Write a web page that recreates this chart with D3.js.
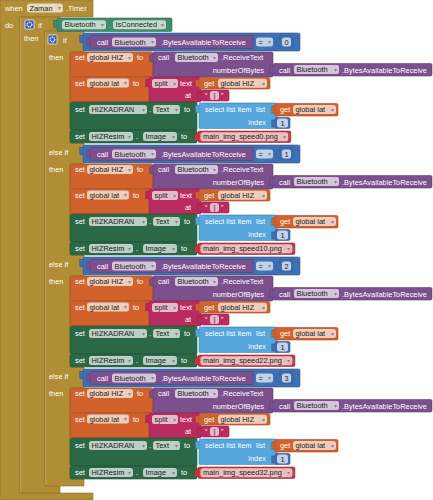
<!DOCTYPE html>
<html><head><meta charset="utf-8">
<script src="https://cdn.jsdelivr.net/npm/d3@7"></script>
<style>
body{margin:0;background:#fff}
svg{display:block}
text{font-family:"Liberation Sans",Arial,sans-serif;font-size:7.4px}
</style>
</head><body><script>
// ---- data ----
const branchIndex = [0, 1, 2, 3];
const branchKeywords = ["if", "else if", "else if", "else if"];
const compareValues = ["0", "1", "2", "3"];
const imageNames = ["main_img_speed0.png", "main_img_speed10.png", "main_img_speed22.png", "main_img_speed32.png"];
const eventComponent = "Zaman";
const eventName = ".Timer";
const btComponent = "Bluetooth";
const varNames = ["global HIZ", "global lat"];
const labelComponents = ["HIZKADRAN", "HIZResim"];
const labelProps = ["Text", "Image"];

// ---- drawing ----
const W = 433, H = 500;
const svg = d3.select("body").append("svg").attr("width", W).attr("height", H);
svg.append("rect").attr("width", W).attr("height", H).attr("fill", "#fff");
const yPos = d3.scaleLinear().domain([0, 3]).range([32, 368]);

const C = {gold:"#B18E35", getter:"#3E8C6B", setter:"#2C6A47", method:"#7B508C", math:"#3F70B6",
           vari:"#D2612B", text:"#BA2B60", str:"#BF3A40", list:"#55A6DC"};

function blk(g, x, yy, w, h, c, tab) {
  const dk = d3.color(c).darker(0.7);
  if (tab) g.append("rect").attr("x", x - 3.2).attr("y", yy + 2.5).attr("width", 4).attr("height", 7)
    .attr("fill", c).attr("stroke", dk).attr("stroke-width", 0.6);
  g.append("rect").attr("x", x).attr("y", yy).attr("width", w).attr("height", h).attr("rx", 1.5)
    .attr("fill", c).attr("stroke", dk).attr("stroke-width", 0.6);
  if (tab) g.append("rect").attr("x", x - 0.4).attr("y", yy + 2.9).attr("width", 1.2).attr("height", 6.2).attr("fill", c);
}
function lbl(g, x, yy, t, anchor) {
  g.append("text").attr("x", x).attr("y", yy).attr("fill", "#fff")
    .attr("text-anchor", anchor || "start").text(t);
}
function fld(g, x, yy, w, t, arrow, center) {
  const h = 9;
  const r = g.append("rect").attr("x", x).attr("y", yy).attr("width", w || 10).attr("height", h).attr("rx", 2.5)
    .attr("fill", "#fff").attr("fill-opacity", 0.68);
  const tx = g.append("text").attr("x", center ? x + w / 2 : x + 2.5).attr("y", yy + h / 2 + 2.6)
    .attr("text-anchor", center ? "middle" : "start").attr("fill", "#222").text(t);
  let ww = w;
  if (!w) { ww = tx.node().getComputedTextLength() + (arrow ? 13 : 5); r.attr("width", ww); }
  if (arrow) g.append("text").attr("x", x + ww - 2.3).attr("y", yy + h / 2 + 2.4).attr("text-anchor", "end")
    .attr("fill", "#8a8a8a").style("font-size", "6px").text("\u25BE");
  return ww;
}
function gear(g, x, yy) {
  g.append("rect").attr("x", x).attr("y", yy).attr("width", 9).attr("height", 9).attr("rx", 1)
    .attr("fill", "#3A5DB0").attr("stroke", "#fff").attr("stroke-width", 0.7);
  g.append("circle").attr("cx", x + 4.5).attr("cy", yy + 4.5).attr("r", 2.3)
    .attr("fill", "none").attr("stroke", "#fff").attr("stroke-width", 1.3).attr("stroke-dasharray", "1.2 0.6");
}

// gold control blocks
const bottomY = yPos(3) + 111;
const goldDark = d3.color(C.gold).darker(0.6);
svg.append("path").attr("d", `M0,0 H93 V17 H20 V${bottomY + 14} H93 V500 H0 Z`)
  .attr("fill", C.gold).attr("stroke", goldDark).attr("stroke-width", 0.6);
svg.append("path").attr("d", `M20,17 H60 V31 H45 V${bottomY + 7} H60 V${bottomY + 14} H20 Z`)
  .attr("fill", C.gold).attr("stroke", goldDark).attr("stroke-width", 0.6);
let p = `M45,${yPos(0) - 1} H84 V${yPos(0) + 20} H70`;
for (let i = 1; i < branchIndex.length; i++) p += ` V${yPos(i) - 1} H84 V${yPos(i) + 20} H70`;
p += ` V${bottomY} H84 V${bottomY + 7} H45 Z`;
svg.append("path").attr("d", p).attr("fill", C.gold).attr("stroke", goldDark).attr("stroke-width", 0.6);
svg.append("line").attr("x1", 20.7).attr("x2", 20.7).attr("y1", 18).attr("y2", bottomY + 13)
  .attr("stroke", "#fff").attr("stroke-opacity", 0.35).attr("stroke-width", 0.7);
svg.append("line").attr("x1", 45.7).attr("x2", 45.7).attr("y1", yPos(0)).attr("y2", bottomY + 6)
  .attr("stroke", "#fff").attr("stroke-opacity", 0.35).attr("stroke-width", 0.7);

const headG = svg.append("g");
lbl(headG, 5, 11.2, "when");
fld(headG, 27, 3.5, 36, eventComponent, true);
lbl(headG, 66, 11.2, eventName);
lbl(headG, 5, 27.5, "do");
gear(headG, 25, 20);
lbl(headG, 38, 27.5, "if");
blk(headG, 57, 18, 115, 13.5, C.getter, true);
fld(headG, 62, 20.2, 44, btComponent, true);
lbl(headG, 108.5, 27.5, ".");
fld(headG, 113, 20.2, 53, "IsConnected", true);
lbl(headG, 24, 41, "then");

// branches
svg.selectAll("g.branch").data(branchIndex).join("g").attr("class", "branch")
  .attr("transform", d => `translate(0,${yPos(d)})`)
  .each(function (d) {
    const g = d3.select(this);
    if (d === 0) { gear(g, 48, 3); lbl(g, 63, 10.8, branchKeywords[d]); }
    else lbl(g, 49, 11, branchKeywords[d]);
    // compare
    blk(g, 83, 1, 217, 18, C.math, true);
    blk(g, 90, 3.5, 163, 13, C.method, true);
    lbl(g, 97, 12.7, "call");
    fld(g, 112, 5.5, 44, btComponent, true);
    lbl(g, 161, 12.7, ".BytesAvailableToReceive");
    fld(g, 256, 5.5, 17, "=", true);
    blk(g, 280, 4, 13, 12, C.math, true);
    fld(g, 282, 5.5, 9, compareValues[d], false, true);

    lbl(g, 49, 28.2, "then");
    // set global HIZ
    blk(g, 70, 20, 83, 25, C.vari);
    lbl(g, 75, 28.2, "set");
    fld(g, 87, 21, 46, varNames[0], true);
    lbl(g, 137, 28.2, "to");
    blk(g, 153, 20, 120, 25, C.method, true);
    lbl(g, 158, 28.2, "call");
    fld(g, 175, 21, 43, btComponent, true);
    lbl(g, 221, 28.2, ".ReceiveText");
    lbl(g, 264, 40.7, "numberOfBytes", "end");
    blk(g, 273, 31.5, 159, 12.5, C.method, true);
    lbl(g, 279, 40.7, "call");
    fld(g, 294, 33, 45, btComponent, true);
    lbl(g, 342, 40.7, ".BytesAvailableToReceive");

    // set global lat
    blk(g, 70, 45, 80, 25, C.vari);
    lbl(g, 75, 53.7, "set");
    fld(g, 87, 46.5, 42, varNames[1], true);
    lbl(g, 133, 53.7, "to");
    blk(g, 149, 45, 52, 25, C.text, true);
    fld(g, 152, 47, 26, "split", true);
    lbl(g, 180, 53.7, "text");
    blk(g, 199, 45.5, 71, 11.5, C.vari, true);
    lbl(g, 204, 53.7, "get");
    fld(g, 218, 46.8, 49, varNames[0], true);
    lbl(g, 185, 65.9, "at");
    blk(g, 201, 58, 28, 11, C.text, true);
    lbl(g, 205, 66.2, "\u201C");
    fld(g, 210, 59, 9, "|", false, true);
    lbl(g, 221, 66.2, "\u201D");

    // set HIZKADRAN.Text
    blk(g, 70, 70, 127, 28, C.setter);
    lbl(g, 75, 80.2, "set");
    fld(g, 89, 73, 58, labelComponents[0], true);
    lbl(g, 149, 80.2, ".");
    fld(g, 153, 73, 27, labelProps[0], true);
    lbl(g, 184, 80.2, "to");
    blk(g, 199, 71, 78, 25.5, C.list, true);
    lbl(g, 205, 80.2, "select list item");
    lbl(g, 256, 80.2, "list");
    blk(g, 275, 71.5, 63, 12.5, C.vari, true);
    lbl(g, 280, 80.2, "get");
    fld(g, 293, 73, 43, varNames[1], true);
    lbl(g, 266, 93.2, "index", "end");
    blk(g, 275, 85.5, 15, 11, C.math, true);
    fld(g, 277, 86.5, 11, "1", false, true);

    // set HIZResim.Image
    blk(g, 70, 98, 127, 13, C.setter);
    lbl(g, 75, 107.2, "set");
    fld(g, 89, 100, 44, labelComponents[1], true);
    lbl(g, 136, 107.2, ".");
    fld(g, 143, 100, 34, labelProps[1], true);
    lbl(g, 181, 107.2, "to");
    const sg = g.append("g");
    const tmp = sg.append("text").text(imageNames[d]);
    const tl = tmp.node().getComputedTextLength(); tmp.remove();
    blk(sg, 198, 99, tl + 18, 11.5, C.str, true);
    fld(sg, 200.5, 100.2, tl + 13, imageNames[d], true);
  });
</script></body></html>
